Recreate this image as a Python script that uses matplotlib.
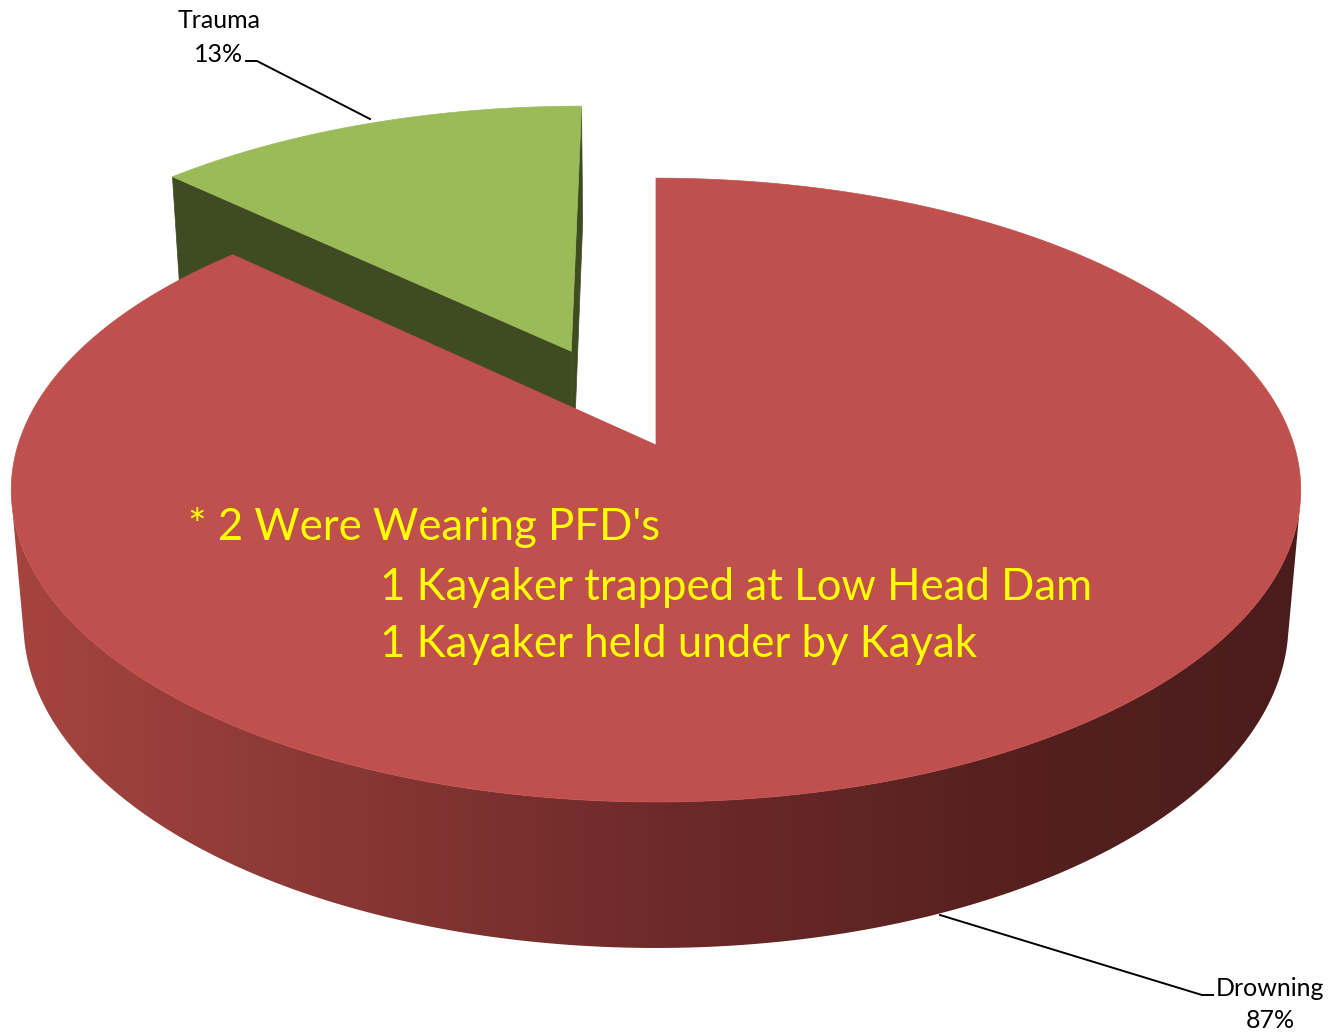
import numpy as np
import matplotlib.pyplot as plt
from matplotlib.patches import Polygon

# data
labels = ['Drowning', 'Trauma']
values = [87, 13]
top_colors = ['#C0504D', '#9BBB59']
face_colors = ['#5A2220', '#3F4C22']
explode = [0.0, 0.35]
note_lines = ["* 2 Were Wearing PFD's",
              "1 Kayaker trapped at Low Head Dam",
              "1 Kayaker held under by Kayak"]

W, H = 1332, 1033
fig = plt.figure(figsize=(W / 100, H / 100), dpi=100)
ax = fig.add_axes([0, 0, 1, 1])

# simple perspective camera for the 3D pie (screen units = pixels)
cx, cy, s = 656, 445, 638
phi = np.radians(28.6)
D = 6.08
h = 0.24
cam = np.array([0.0, -D * np.cos(phi), D * np.sin(phi)])


def proj(X, Y, Z):
    yv = Y * np.sin(phi) + Z * np.cos(phi)
    w = D + Y * np.cos(phi) - Z * np.sin(phi)
    return cx + s * X * D / w, cy - s * yv * D / w


def side_gradient(poly):
    # horizontal shading of the curved side, light on the left, dark on the right
    xs = np.arange(0, W)
    stops_x = [20, 320, 660, 1020, 1300]
    stops_c = np.array([[165, 68, 63], [138, 56, 53], [110, 42, 42],
                        [85, 32, 31], [75, 28, 28]]) / 255.0
    rgb = np.stack([np.interp(xs, stops_x, stops_c[:, k]) for k in range(3)], axis=-1)
    img = np.repeat(rgb[np.newaxis, :, :], 2, axis=0)
    im = ax.imshow(img, extent=(0, W, H, 0), aspect='auto', zorder=poly.get_zorder())
    im.set_clip_path(poly)


total = float(sum(values))
fracs = np.array(values) / total
starts = 90 - 360 * np.concatenate([[0], np.cumsum(fracs)[:-1]])
ends = 90 - 360 * np.cumsum(fracs)

# draw back slice first (Trauma), then the front one
order = [1, 0]
z = 1
for i in order:
    t0, t1 = np.radians(starts[i]), np.radians(ends[i])
    mid = (t0 + t1) / 2
    ex, ey = explode[i] * np.cos(mid), explode[i] * np.sin(mid)
    t = np.linspace(t0, t1, 400)
    ax_, ay_ = ex + np.cos(t), ey + np.sin(t)

    # curved outer side, only where it faces the camera
    vis = np.cos(t) * (cam[0] - ax_) + np.sin(t) * (cam[1] - ay_) > 0
    if vis.any():
        idx = np.where(vis)[0]
        tx, ty = proj(ax_[idx], ay_[idx], 0.0)
        bx, by = proj(ax_[idx], ay_[idx], -h)
        pts = np.column_stack([np.concatenate([tx, bx[::-1]]),
                               np.concatenate([ty, by[::-1]])])
        poly = Polygon(pts, closed=True, facecolor='none', edgecolor='none', zorder=z)
        ax.add_patch(poly)
        side_gradient(poly)
    z += 1

    # flat radial faces
    for ang, nrm in [(t0, t0 + np.pi / 2), (t1, t1 - np.pi / 2)]:
        n = np.array([np.cos(nrm), np.sin(nrm)])
        if n @ (cam[:2] - np.array([ex, ey])) <= 0:
            continue
        px = [ex, ex + np.cos(ang), ex + np.cos(ang), ex]
        py = [ey, ey + np.sin(ang), ey + np.sin(ang), ey]
        pz = [0, 0, -h, -h]
        sx, sy = proj(np.array(px), np.array(py), np.array(pz, dtype=float))
        ax.add_patch(Polygon(np.column_stack([sx, sy]), closed=True,
                             facecolor=face_colors[i], edgecolor=face_colors[i],
                             lw=0.5, zorder=z))
    z += 1

    # top face
    tx, ty = proj(np.concatenate([[ex], ax_]), np.concatenate([[ey], ay_]), 0.0)
    ax.add_patch(Polygon(np.column_stack([tx, ty]), closed=True,
                         facecolor=top_colors[i], edgecolor=top_colors[i],
                         lw=0.5, zorder=z))
    z += 1

# note text on the big slice
note_font = ['Lato', 'DejaVu Sans']
ax.text(188, 540, note_lines[0], color='#FFFF00', fontsize=31.5, family=note_font,
        va='baseline', ha='left', zorder=20)
ax.text(380, 600, note_lines[1], color='#FFFF00', fontsize=31.5, family=note_font,
        va='baseline', ha='left', zorder=20)
ax.text(380, 657, note_lines[2], color='#FFFF00', fontsize=31.5, family=note_font,
        va='baseline', ha='left', zorder=20)

# data labels with leader lines
lab_font = ['Lato', 'DejaVu Sans']
pct = [f"{round(v / total * 100)}%" for v in values]
ax.text(219, 21, labels[1], fontsize=18, family=lab_font, ha='center', va='center', zorder=20)
ax.text(219, 54, pct[1], fontsize=18, family=lab_font, ha='center', va='center', zorder=20)
ax.plot([246, 257, 370], [61, 61, 119], color='black', lw=1.4, zorder=20)

ax.text(1270, 988, labels[0], fontsize=18, family=lab_font, ha='center', va='center', zorder=20)
ax.text(1270, 1020, pct[0], fontsize=18, family=lab_font, ha='center', va='center', zorder=20)
ax.plot([940, 1202, 1213], [915, 995, 995], color='black', lw=1.4, zorder=20)

ax.set_xlim(0, W)
ax.set_ylim(H, 0)
ax.axis('off')
fig.savefig('out.png', dpi=100)
